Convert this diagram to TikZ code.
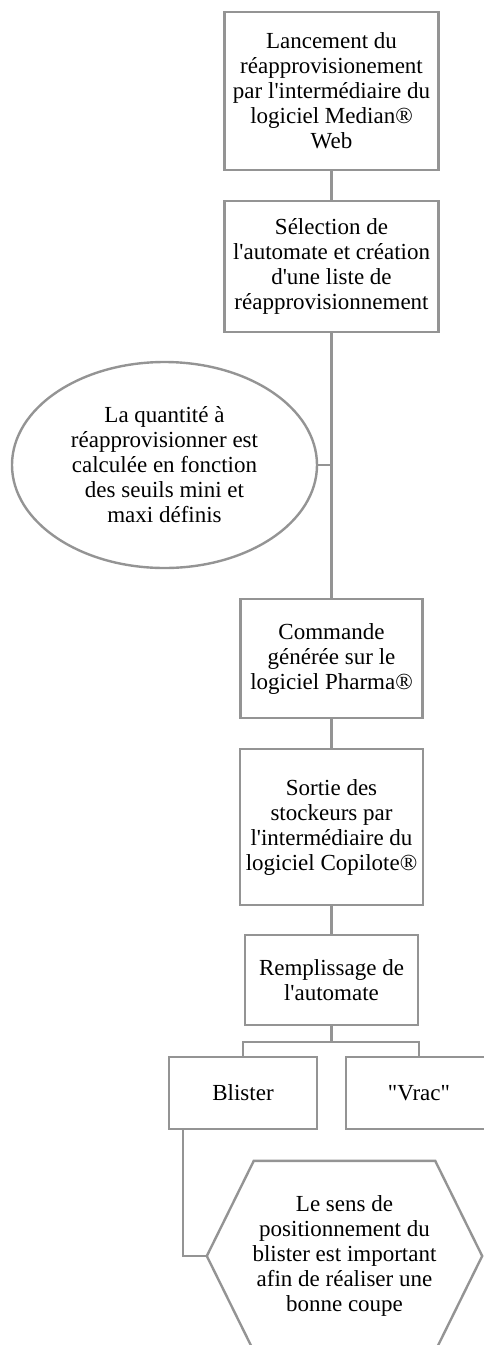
\documentclass[tikz,border=0pt]{standalone}
\usepackage{fontspec}
\setmainfont{Liberation Serif}[Ligatures=TeXOff]
\usetikzlibrary{shapes, positioning, calc}
\definecolor{linegray}{RGB}{148,148,148}

\begin{document}
\begin{tikzpicture}[
        x=1pt, y=-1pt,
        box/.style={draw=linegray, line width=2.4pt, align=center, inner sep=0pt},
        link/.style={draw=linegray, line width=2.4pt},
        every node/.style={font=\fontsize{23}{25}\selectfont}
    ]

    \useasboundingbox (0,0) rectangle (484,1345);

    % Main steps
    \node[box, minimum width=214pt, minimum height=158pt] (launch) at (331.5,91)
        {Lancement du\\r\'eapprovisionement\\par l'interm\'ediaire du\\logiciel Median\textregistered\\Web};
    \node[box, minimum width=214pt, minimum height=131pt] (select) at (331.5,266.5)
        {S\'election de\\l'automate et cr\'eation\\d'une liste de\\r\'eapprovisionnement};
    \node[box, minimum width=182pt, minimum height=119pt] (order) at (331.5,658.5)
        {Commande\\g\'en\'er\'ee sur le\\logiciel Pharma\textregistered};
    \node[box, minimum width=183pt, minimum height=156pt] (stock) at (331.5,827)
        {Sortie des\\stockeurs par\\l'interm\'ediaire du\\logiciel Copilote\textregistered};
    \node[box, minimum width=173pt, minimum height=90pt] (fill) at (331.5,980)
        {Remplissage de\\l'automate};

    % Side note
    \node[box, ellipse, minimum width=305pt, minimum height=206pt] (qty) at (164.5,465)
        {La quantit\'e \`a\\r\'eapprovisionner est\\calcul\'ee en fonction\\des seuils mini et\\maxi d\'efinis};

    % Branches
    \node[box, minimum width=148pt, minimum height=72pt] (blister) at (243,1093) {Blister};
    \node[box, minimum width=146pt, minimum height=72pt] (vrac) at (419,1093) {"Vrac"};

    % Hexagon note
    \node[minimum width=275pt, minimum height=190pt, align=center, inner sep=0pt] (hex) at (344.5,1256)
        {Le sens de\\positionnement du\\blister est important\\afin de r\'ealiser une\\bonne coupe};
    \draw[link] (hex.west) -- ($(hex.north west)+(47,0)$) -- ($(hex.north east)-(47,0)$)
        -- (hex.east) -- ($(hex.south east)-(47,0)$) -- ($(hex.south west)+(47,0)$) -- cycle;

    % Connectors
    \draw[link] (launch) -- (select);
    \draw[link] (select) -- (order);
    \draw[link] (qty.east) -- (qty.east -| select.south);
    \draw[link] (order) -- (stock);
    \draw[link] (stock) -- (fill);
    \draw[link] (fill.south) -- ++(0,16) coordinate (split);
    \draw[link] (split) -| (blister.north);
    \draw[link] (split) -| (vrac.north);
    \draw[link] ([xshift=15pt]blister.south west) |- (hex.west);

\end{tikzpicture}
\end{document}
